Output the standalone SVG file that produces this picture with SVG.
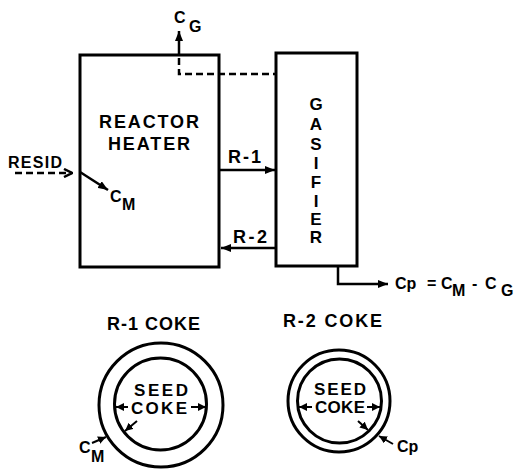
<svg xmlns="http://www.w3.org/2000/svg" width="522" height="469" viewBox="0 0 522 469">
<defs>
<style>
.box{fill:none;stroke:#000;stroke-width:3}
.ln{fill:none;stroke:#000;stroke-width:2.5}
.thin{fill:none;stroke:#000;stroke-width:2}
.dash{stroke-dasharray:7 4}
.ring{fill:none;stroke:#000;stroke-width:3}
text{font-family:"Liberation Sans",Arial,sans-serif;font-weight:bold;fill:#000}
.big{font-size:18px}
.mid{font-size:16px}
.sd{font-size:17px}
.ctr{text-anchor:middle}
</style>
<marker id="ah" viewBox="0 0 10 8" refX="10" refY="4" markerWidth="10" markerHeight="8" markerUnits="userSpaceOnUse" orient="auto">
<path d="M0,0 L10,4 L0,8 Z" fill="#000"/>
</marker>
<marker id="sh" viewBox="0 0 8 8" refX="8" refY="4" markerWidth="8" markerHeight="8" markerUnits="userSpaceOnUse" orient="auto">
<path d="M0,0 L8,4 L0,8 Z" fill="#000"/>
</marker>
<marker id="open" viewBox="0 0 10 10" refX="9" refY="5" markerWidth="10" markerHeight="10" markerUnits="userSpaceOnUse" orient="auto">
<path d="M1,1 L9,5 L1,9" fill="none" stroke="#000" stroke-width="2.5"/>
</marker>
</defs>
<rect width="522" height="469" fill="#fff"/>

<g id="reactor-heater">
<rect class="box" x="80" y="55" width="139" height="212"/>
<text class="big ctr" x="149" y="128" textLength="100" lengthAdjust="spacing">REACTOR</text>
<text class="big ctr" x="149" y="150" textLength="82" lengthAdjust="spacing">HEATER</text>
<text class="mid" x="110" y="202">C</text>
<text class="mid" x="122" y="210">M</text>
</g>

<g id="gasifier">
<rect class="box" x="276" y="53" width="81" height="213"/>
<text class="sd ctr" x="316" y="110">G</text>
<text class="sd ctr" x="316" y="130">A</text>
<text class="sd ctr" x="316" y="150">S</text>
<text class="sd ctr" x="316" y="169">I</text>
<text class="sd ctr" x="316" y="188">F</text>
<text class="sd ctr" x="316" y="207">I</text>
<text class="sd ctr" x="316" y="225">E</text>
<text class="sd ctr" x="316" y="243">R</text>
</g>

<g id="gas-out">
<text class="mid" x="174" y="23">C</text>
<text class="mid" x="189" y="32">G</text>
</g>

<g id="resid">
<text class="mid" x="8" y="168" textLength="54" lengthAdjust="spacing">RESID</text>
</g>

<g id="product">
<text class="mid" x="395" y="289">Cp</text>
<text class="mid" x="427" y="289">=</text>
<text class="mid" x="441" y="289">C</text>
<text class="mid" x="452" y="296">M</text>
<text class="mid" x="472" y="289">-</text>
<text class="mid" x="485" y="289">C</text>
<text class="mid" x="501" y="296">G</text>
</g>

<g id="r1-coke">
<text class="big" x="107" y="330" textLength="93" lengthAdjust="spacing">R-1 COKE</text>
<circle class="ring" cx="161" cy="405" r="62"/>
<circle class="ring" cx="160.5" cy="404" r="46"/>
<text class="sd" x="134" y="396" textLength="54" lengthAdjust="spacing">SEED</text>
<text class="sd" x="131" y="414" textLength="56" lengthAdjust="spacing">COKE</text>
<line class="thin" x1="128" y1="407" x2="116" y2="407" marker-end="url(#sh)"/>
<line class="thin" x1="191" y1="407" x2="206" y2="407" marker-end="url(#sh)"/>
<line class="thin" x1="137" y1="421" x2="125" y2="431" marker-end="url(#sh)"/>
<line class="thin" x1="92" y1="443" x2="106" y2="437" marker-end="url(#sh)"/>
<text class="mid" x="79" y="453">C</text>
<text class="mid" x="91" y="462">M</text>
</g>

<g id="r2-coke">
<text class="big" x="283" y="327" textLength="99" lengthAdjust="spacing">R-2 COKE</text>
<circle class="ring" cx="339" cy="401" r="51"/>
<circle class="ring" cx="339.5" cy="401" r="42"/>
<text class="sd" x="314" y="395" textLength="52" lengthAdjust="spacing">SEED</text>
<text class="sd" x="315" y="413" textLength="50" lengthAdjust="spacing">COKE</text>
<line class="thin" x1="312" y1="407" x2="299" y2="407" marker-end="url(#sh)"/>
<line class="thin" x1="367" y1="407" x2="380" y2="407" marker-end="url(#sh)"/>
<line class="thin" x1="358" y1="421" x2="368" y2="430" marker-end="url(#sh)"/>
<line class="thin" x1="393" y1="444" x2="379" y2="436" marker-end="url(#sh)"/>
<text class="mid" x="397" y="452">Cp</text>
</g>

<g id="connectors">
<line class="ln" x1="179" y1="55" x2="179" y2="31" marker-end="url(#ah)"/>
<path class="ln dash" d="M179,58 V74 H275"/>
<line class="ln" x1="220" y1="170" x2="275" y2="170" marker-end="url(#ah)"/>
<text class="big" x="228" y="163" textLength="33" lengthAdjust="spacing">R-1</text>
<line class="ln" x1="275" y1="248" x2="221" y2="248" marker-end="url(#ah)"/>
<text class="big" x="233" y="243" textLength="34" lengthAdjust="spacing">R-2</text>
<path class="ln" d="M338,266 V284 H388" marker-end="url(#ah)"/>
<line class="ln dash" x1="15" y1="173" x2="72" y2="173" marker-end="url(#open)"/>
<line class="ln" x1="80" y1="172" x2="108" y2="190" marker-end="url(#ah)"/>
</g>
</svg>
